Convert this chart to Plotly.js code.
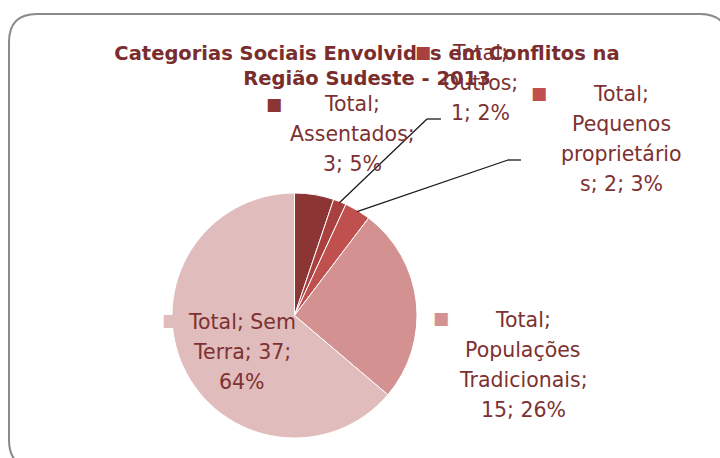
<!DOCTYPE html>
<html>
<head>
<meta charset="utf-8">
<script src="https://cdn.plot.ly/plotly-3.0.1.min.js"></script>
<style>html,body{margin:0;padding:0;background:#fff;}#chart{width:720px;height:458px;}</style>
</head>
<body>
<div id="chart"></div>
<script>
// ---- data ----
const seriesName = "Total";
const categories = ["Assentados", "Outros", "Pequenos proprietários", "Populações Tradicionais", "Sem Terra"];
const values = [3, 1, 2, 15, 37];
const titleText = "Categorias Sociais Envolvidas em Conflitos na<br>Região Sudeste - 2013";
const labelLines = [
  ["Total;", "Assentados;", "3; 5%"],
  ["Total;", "Outros;", "1; 2%"],
  ["Total;", "Pequenos", "proprietário", "s; 2; 3%"],
  ["Total;", "Populações", "Tradicionais;", "15; 26%"],
  ["Total; Sem", "Terra; 37;", "64%"]
];

// ---- styles / layout helpers ----
const W = 720, H = 458;
const colors = ["#8b3535", "#a93f3e", "#c0504d", "#d39291", "#e1bcbc"];
const textColor = "#7d3131";
const FONT = "DejaVu Sans, sans-serif";
const X = p => p / W;
const Y = p => 1 - p / H;

// pie geometry (pixels)
const pieCx = 294.5, pieCy = 315.5, pieR = 122.5;

// label placement (pixels): center x, first line y, line spacing
const labelPos = [
  {x: 352, y: 104}, {x: 480, y: 53}, {x: 621, y: 94}, {x: 523, y: 320}, {x: 242, y: 322}
];
const lineGap = 30;
const markerPos = [
  {x: 274, y: 104}, {x: 423, y: 52}, {x: 539, y: 93}, {x: 441, y: 318}, {x: 170, y: 320}
];
// leader lines: index of category, tail point, horizontal end
const leaders = [
  {i: 1, tx: 427, ty: 119, ex: 441},
  {i: 2, tx: 508, ty: 160, ex: 521}
];

const annotations = [];
labelLines.forEach((lines, i) => {
  lines.forEach((t, k) => {
    annotations.push({
      xref: "paper", yref: "paper",
      x: X(labelPos[i].x), y: Y(labelPos[i].y + k * lineGap),
      xanchor: "center", yanchor: "middle",
      text: t, showarrow: false,
      font: {family: FONT, size: 20.5, color: textColor}
    });
  });
  annotations.push({
    xref: "paper", yref: "paper",
    x: X(markerPos[i].x), y: Y(markerPos[i].y),
    xanchor: "center", yanchor: "middle",
    text: "■", showarrow: false,
    font: {family: FONT, size: 17, color: colors[i]}
  });
});

// leader line shapes computed from data angles
const total = values.reduce((a, b) => a + b, 0);
const cum = [];
values.reduce((acc, v, i) => { cum[i] = acc; return acc + v; }, 0);
const shapes = [];
leaders.forEach(L => {
  const ang = 2 * Math.PI * (cum[L.i] + values[L.i] / 2) / total;
  const hx = pieCx + pieR * 0.99 * Math.sin(ang);
  const hy = pieCy - pieR * 0.99 * Math.cos(ang);
  shapes.push({type: "line", xref: "paper", yref: "paper",
    x0: X(L.tx), y0: Y(L.ty), x1: X(hx), y1: Y(hy),
    line: {color: "#1a1a1a", width: 1.3}});
  shapes.push({type: "line", xref: "paper", yref: "paper",
    x0: X(L.tx), y0: Y(L.ty), x1: X(L.ex), y1: Y(L.ty),
    line: {color: "#1a1a1a", width: 1.3}});
});

// rounded frame
const fx0 = 9, fy0 = 14, fx1 = 728, fy1 = 468, fr = 28;
const P = (x, y) => X(x) + "," + Y(y);
const framePath = "M" + P(fx0 + fr, fy0) + " L" + P(fx1 - fr, fy0) +
  " Q" + P(fx1, fy0) + " " + P(fx1, fy0 + fr) + " L" + P(fx1, fy1 - fr) +
  " Q" + P(fx1, fy1) + " " + P(fx1 - fr, fy1) + " L" + P(fx0 + fr, fy1) +
  " Q" + P(fx0, fy1) + " " + P(fx0, fy1 - fr) + " L" + P(fx0, fy0 + fr) +
  " Q" + P(fx0, fy0) + " " + P(fx0 + fr, fy0) + " Z";
shapes.push({type: "path", xref: "paper", yref: "paper", path: framePath,
  line: {color: "#8a8a8a", width: 2}, layer: "below"});

const trace = {
  type: "pie",
  labels: categories,
  values: values,
  sort: false,
  direction: "clockwise",
  rotation: 0,
  textinfo: "none",
  hoverinfo: "label+value+percent",
  marker: {colors: colors, line: {color: "#ffffff", width: 1}},
  domain: {x: [X(pieCx - pieR), X(pieCx + pieR)], y: [Y(pieCy + pieR), Y(pieCy - pieR)]},
  showlegend: false
};

const layout = {
  width: W, height: H,
  margin: {l: 0, r: 0, t: 0, b: 0},
  paper_bgcolor: "#ffffff",
  showlegend: false,
  title: {
    text: titleText,
    x: X(367), xanchor: "center",
    y: Y(60), yanchor: "top", yref: "container",
    font: {family: "DejaVu Sans, sans-serif", size: 19.5, color: "#7a2d2d", weight: "bold"}
  },
  annotations: annotations,
  shapes: shapes
};

Plotly.newPlot("chart", [trace], layout, {displayModeBar: false, staticPlot: true});
</script>
</body>
</html>
